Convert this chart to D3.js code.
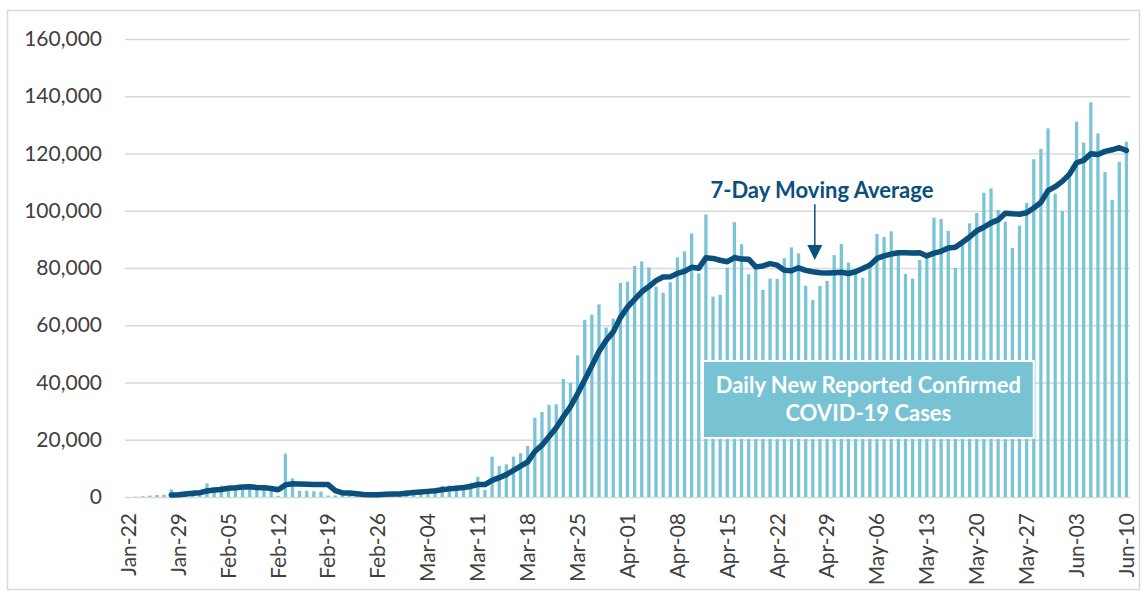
<!DOCTYPE html>
<html>
<head>
<meta charset="utf-8">
<script src="https://cdn.jsdelivr.net/npm/d3@7"></script>
<style>
  body { margin: 0; background: #fff; }
  text { font-family: Lato, "Open Sans", sans-serif; }
</style>
</head>
<body>
<div id="chart"></div>
<script>
// one category per day, Jan-22 .. Jun-10
var dates = [
  "Jan-22","Jan-23","Jan-24","Jan-25","Jan-26","Jan-27","Jan-28","Jan-29","Jan-30","Jan-31",
  "Feb-01","Feb-02","Feb-03","Feb-04","Feb-05","Feb-06","Feb-07","Feb-08","Feb-09","Feb-10",
  "Feb-11","Feb-12","Feb-13","Feb-14","Feb-15","Feb-16","Feb-17","Feb-18","Feb-19","Feb-20",
  "Feb-21","Feb-22","Feb-23","Feb-24","Feb-25","Feb-26","Feb-27","Feb-28","Feb-29",
  "Mar-01","Mar-02","Mar-03","Mar-04","Mar-05","Mar-06","Mar-07","Mar-08","Mar-09","Mar-10",
  "Mar-11","Mar-12","Mar-13","Mar-14","Mar-15","Mar-16","Mar-17","Mar-18","Mar-19","Mar-20",
  "Mar-21","Mar-22","Mar-23","Mar-24","Mar-25","Mar-26","Mar-27","Mar-28","Mar-29","Mar-30","Mar-31",
  "Apr-01","Apr-02","Apr-03","Apr-04","Apr-05","Apr-06","Apr-07","Apr-08","Apr-09","Apr-10",
  "Apr-11","Apr-12","Apr-13","Apr-14","Apr-15","Apr-16","Apr-17","Apr-18","Apr-19","Apr-20",
  "Apr-21","Apr-22","Apr-23","Apr-24","Apr-25","Apr-26","Apr-27","Apr-28","Apr-29","Apr-30",
  "May-01","May-02","May-03","May-04","May-05","May-06","May-07","May-08","May-09","May-10",
  "May-11","May-12","May-13","May-14","May-15","May-16","May-17","May-18","May-19","May-20",
  "May-21","May-22","May-23","May-24","May-25","May-26","May-27","May-28","May-29","May-30","May-31",
  "Jun-01","Jun-02","Jun-03","Jun-04","Jun-05","Jun-06","Jun-07","Jun-08","Jun-09","Jun-10"
];

// daily new reported confirmed cases
var dailyCases = [
  0, 100, 290, 490, 680, 810, 2650, 590, 2070, 1690,
  2110, 4750, 3090, 4010, 3740, 3160, 3600, 2730, 3030, 2610,
  2040, 420, 15150, 6520, 2150, 2190, 2030, 1880, 500, 560,
  620, 1750, 390, 600, 850, 980, 1360, 1370, 1900,
  2360, 1940, 2530, 2280, 2770, 3920, 4050, 3970, 3770, 5030,
  7100, 2480, 14100, 10800, 11400, 14100, 15300, 17800, 27700, 29700,
  32200, 32400, 41200, 39900, 49500, 61900, 63700, 67300, 59200, 62300, 74800,
  75200, 80700, 82300, 80200, 73500, 71400, 75000, 83700, 85800, 92100,
  78100, 98700, 70000, 70600, 80100, 96000, 88300, 77800, 80000, 72300,
  76300, 76200, 83400, 87200, 85100, 73800, 68800, 73700, 75500, 84500,
  88400, 81900, 78100, 76600, 82000, 91900, 90800, 92800, 85000, 77900,
  76300, 82800, 84000, 97600, 97100, 93000, 80000, 88400, 95600, 99200,
  106300, 107800, 100300, 96200, 87000, 94800, 102700, 118000, 121600, 128800, 106000,
  99900, 112000, 131100, 123800, 137900, 127000, 113500, 103800, 117100, 124100
];

// 7-day moving average (no value for the first six days)
var avg7 = [
  null, null, null, null, null, null, 717, 801, 1083, 1283,
  1514, 2096, 2421, 2616, 3066, 3221, 3494, 3583, 3337, 3269,
  2987, 2513, 4226, 4643, 4560, 4440, 4357, 4334, 4346, 2261,
  1419, 1361, 1104, 900, 753, 821, 936, 1043, 1064,
  1346, 1537, 1777, 1963, 2164, 2529, 2836, 3066, 3327, 3684,
  4373, 4331, 5786, 6750, 7811, 9287, 10754, 12283, 15886, 18114,
  21171, 24171, 28043, 31557, 36086, 40971, 45829, 50843, 54671, 57686, 62671,
  66343, 69029, 71686, 73529, 75571, 76871, 76900, 78114, 78843, 80243,
  79943, 83543, 83343, 82714, 82200, 83657, 83114, 83071, 80400, 80729,
  81543, 80986, 79186, 79029, 80071, 79186, 78686, 78314, 78214, 78371,
  78543, 78086, 78700, 79814, 81000, 83343, 84243, 84871, 85314, 85286,
  85243, 85357, 84229, 85200, 85814, 86957, 87257, 88986, 90814, 92986,
  94229, 95757, 96800, 99114, 98914, 98800, 99300, 100971, 102943, 107014, 108414,
  110257, 112714, 116771, 117600, 119929, 119671, 120743, 121300, 122029, 121029
];

var tickLabels = ["Jan-22","Jan-29","Feb-05","Feb-12","Feb-19","Feb-26","Mar-04","Mar-11",
  "Mar-18","Mar-25","Apr-01","Apr-08","Apr-15","Apr-22","Apr-29","May-06","May-13",
  "May-20","May-27","Jun-03","Jun-10"];
var yTicks = [0, 20000, 40000, 60000, 80000, 100000, 120000, 140000, 160000];

var W = 1145, H = 597;
var margin = { top: 39, right: 15, bottom: 100, left: 125 };

var svg = d3.select("#chart").append("svg")
    .attr("width", W)
    .attr("height", H);

// outer frame
svg.append("rect")
    .attr("x", 7.5).attr("y", 10.5)
    .attr("width", 1132).attr("height", 579)
    .attr("fill", "none")
    .attr("stroke", "#d9d9d9")
    .attr("stroke-width", 1.5);

var x = d3.scaleBand()
    .domain(dates)
    .range([margin.left, W - margin.right])
    .paddingInner(0.54)
    .paddingOuter(0.27);

var y = d3.scaleLinear()
    .domain([0, 160000])
    .range([H - margin.bottom, margin.top]);

var xc = function(d) { return x(d) + x.bandwidth() / 2; };

// Y axis + gridlines
var yAxis = svg.append("g")
    .attr("transform", "translate(" + margin.left + ",0)")
    .call(d3.axisLeft(y)
        .tickValues(yTicks)
        .tickSize(-(W - margin.right - margin.left))
        .tickPadding(23)
        .tickFormat(d3.format(",")));
yAxis.select(".domain").remove();
yAxis.selectAll(".tick line").attr("stroke", "#d9d9d9").attr("stroke-width", 1.5);
yAxis.selectAll(".tick text")
    .style("font-size", "21px")
    .attr("fill", "#404040");

// bars
svg.append("g").selectAll("rect")
    .data(dailyCases)
  .enter().append("rect")
    .attr("x", function(d, i) { return x(dates[i]); })
    .attr("y", function(d) { return y(d); })
    .attr("width", x.bandwidth())
    .attr("height", function(d) { return y(0) - y(d); })
    .attr("fill", "#79c4d6");

// moving average line
var line = d3.line()
    .defined(function(d) { return d != null; })
    .x(function(d, i) { return xc(dates[i]); })
    .y(function(d) { return y(d); });

svg.append("path")
    .datum(avg7)
    .attr("fill", "none")
    .attr("stroke", "#0b4f7d")
    .attr("stroke-width", 5.5)
    .attr("stroke-linejoin", "round")
    .attr("stroke-linecap", "round")
    .attr("d", line);

// X axis, rotated labels
var xAxis = svg.append("g")
    .attr("transform", "translate(0," + y(0) + ")")
    .call(d3.axisBottom(x).tickValues(tickLabels).tickSize(0));
xAxis.select(".domain").remove();
xAxis.selectAll(".tick text")
    .attr("transform", "rotate(-90)")
    .attr("x", -16)
    .attr("y", 0)
    .attr("dy", "0.35em")
    .attr("text-anchor", "end")
    .style("font-size", "21px")
    .attr("fill", "#404040");

// annotation: moving average
svg.append("text")
    .attr("x", xc(dates[97]) + 2)
    .attr("y", y(104500))
    .attr("text-anchor", "middle")
    .attr("fill", "#0b4f7d")
    .style("font-size", "22px")
    .style("font-weight", "bold")
    .text("7-Day Moving Average");

var ax = xc(dates[96]) + 2;
svg.append("line")
    .attr("x1", ax).attr("x2", ax)
    .attr("y1", y(102300)).attr("y2", y(87000))
    .attr("stroke", "#0b4f7d")
    .attr("stroke-width", 1.5);
svg.append("path")
    .attr("d", "M" + (ax - 7.5) + "," + y(88000) + "L" + (ax + 7.5) + "," + y(88000) + "L" + ax + "," + y(82800) + "Z")
    .attr("fill", "#0b4f7d");

// annotation: daily cases box
var bx0 = xc(dates[81]) - 3, bx1 = xc(dates[127]);
svg.append("rect")
    .attr("x", bx0).attr("y", y(47500))
    .attr("width", bx1 - bx0)
    .attr("height", y(20600) - y(47500))
    .attr("fill", "#77c3d4")
    .attr("stroke", "#fff")
    .attr("stroke-width", 2);

var boxText = svg.append("text")
    .attr("text-anchor", "middle")
    .attr("fill", "#fff")
    .style("font-size", "22px")
    .style("font-weight", "bold");
boxText.append("tspan")
    .attr("x", (bx0 + bx1) / 2).attr("y", y(36300))
    .text("Daily New Reported Confirmed");
boxText.append("tspan")
    .attr("x", (bx0 + bx1) / 2).attr("y", y(26500))
    .text("COVID-19 Cases");
</script>
</body>
</html>
